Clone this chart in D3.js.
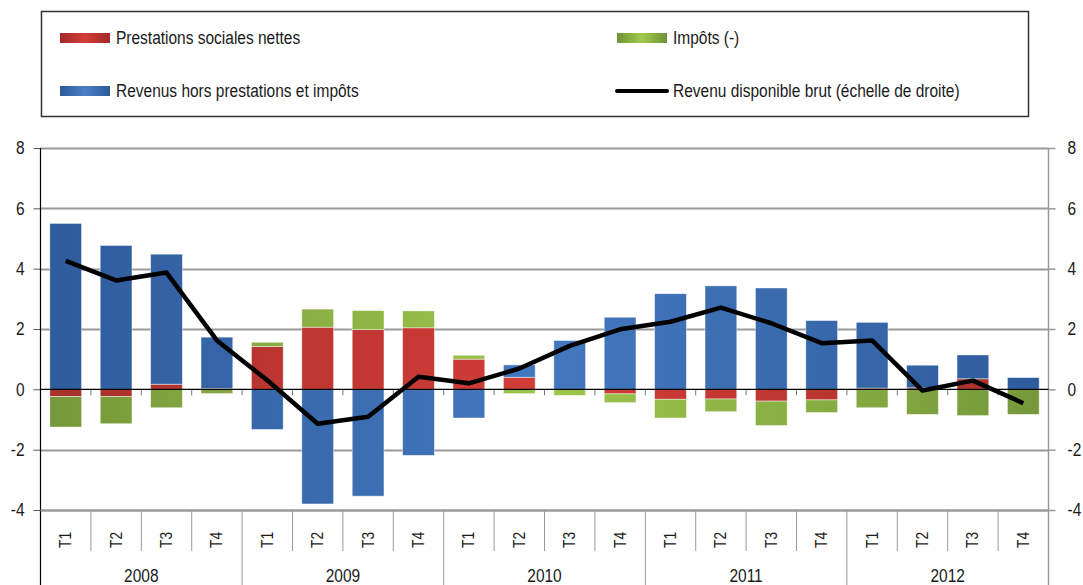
<!DOCTYPE html>
<html>
<head>
<meta charset="utf-8">
<script src="https://cdn.jsdelivr.net/npm/d3@7"></script>
<style>
  html, body { margin: 0; padding: 0; background: #fff; }
  svg { display: block; }
  text { font-family: "Liberation Sans Narrow", "Arial Narrow", "Liberation Sans", Arial, sans-serif; fill: #1a1a1a; }
</style>
</head>
<body>
<svg id="chart" width="1083" height="585"></svg>
<script>
const quarters = ["T1","T2","T3","T4","T1","T2","T3","T4","T1","T2","T3","T4","T1","T2","T3","T4","T1","T2","T3","T4"];
const years = ["2008","2009","2010","2011","2012"];
const prestations = [-0.24,-0.24,0.17,0.03,1.42,2.06,1.98,2.04,1.00,0.40,0.00,-0.15,-0.33,-0.32,-0.39,-0.35,0.04,0.05,0.35,0.00];
const impots      = [-1.01,-0.90,-0.61,-0.14,0.14,0.60,0.63,0.56,0.13,-0.14,-0.20,-0.29,-0.62,-0.42,-0.81,-0.42,-0.61,-0.83,-0.87,-0.83];
const revenus     = [5.50,4.77,4.31,1.70,-1.33,-3.80,-3.54,-2.19,-0.95,0.41,1.62,2.39,3.17,3.43,3.36,2.28,2.18,0.75,0.79,0.39];
const rdb         = [4.26,3.61,3.87,1.62,0.30,-1.14,-0.91,0.42,0.20,0.69,1.44,1.99,2.24,2.71,2.19,1.53,1.62,-0.04,0.29,-0.46];
const yTicks = [-4,-2,0,2,4,6,8];
const seriesNames = ["Prestations sociales nettes","Impôts (-)","Revenus hors prestations et impôts","Revenu disponible brut (échelle de droite)"];

const svg = d3.select("#chart");
const L = 40.5, R = 1048.5, T = 148, B = 510;
const SQ = 0.86; // horizontal condensing of text

const idx = d3.range(quarters.length);
const x = d3.scaleBand().domain(idx).range([L, R]).padding(0);
const y = d3.scaleLinear().domain([-4, 8]).range([B, T]);
const y2 = d3.scaleLinear().domain([-4, 8]).range([B, T]);
const fmt = d => String(d);

const defs = svg.append("defs");
function plotGrad(id, edge, mid) {
  const g = defs.append("linearGradient").attr("id", id)
    .attr("gradientUnits", "userSpaceOnUse").attr("x1", L).attr("x2", R).attr("y1", 0).attr("y2", 0);
  g.append("stop").attr("offset", "0").attr("stop-color", edge);
  g.append("stop").attr("offset", "0.5").attr("stop-color", mid);
  g.append("stop").attr("offset", "1").attr("stop-color", edge);
}
function swGrad(id, edge, mid) {
  const g = defs.append("linearGradient").attr("id", id).attr("x1", "0").attr("x2", "1");
  g.append("stop").attr("offset", "0").attr("stop-color", edge);
  g.append("stop").attr("offset", "0.5").attr("stop-color", mid);
  g.append("stop").attr("offset", "1").attr("stop-color", edge);
}
plotGrad("gRed", "#a8302b", "#d23c38");
plotGrad("gGreen", "#75973a", "#9dc64c");
plotGrad("gBlue", "#2e5b9c", "#4478be");
swGrad("sRed", "#a02a28", "#d43d39");
swGrad("sGreen", "#6f9236", "#a2c94e");
swGrad("sBlue", "#2d5a9b", "#4a7fc4");

function condense(sel) {
  sel.each(function () {
    const len = this.getComputedTextLength();
    if (len > 0) {
      d3.select(this).attr("textLength", (len * SQ).toFixed(2)).attr("lengthAdjust", "spacingAndGlyphs");
    }
  });
}

// gridlines
svg.append("g").selectAll("line").data(yTicks.filter(d => d !== 0)).join("line")
  .attr("x1", L).attr("x2", R).attr("y1", d => Math.round(y(d)) + 0.5).attr("y2", d => Math.round(y(d)) + 0.5)
  .attr("stroke", "#9a9a9a").attr("stroke-width", 2);

// left axis
const leftAxis = d3.axisLeft(y).tickValues(yTicks).tickSize(7).tickPadding(9).tickFormat(fmt);
const gl = svg.append("g").attr("transform", `translate(${L},0)`).call(leftAxis);
gl.select(".domain").remove();
gl.selectAll(".tick line").attr("stroke", "#555").attr("stroke-width", 1);
gl.selectAll(".tick text").style("font-size", "18px").attr("fill", "#1a1a1a")
  .style("font-family", '"Liberation Sans", Arial, sans-serif').call(condense);
svg.append("line").attr("x1", L).attr("x2", L).attr("y1", T).attr("y2", 585).attr("stroke", "#000").attr("stroke-width", 1.2);

// right axis
const rightAxis = d3.axisRight(y2).tickValues(yTicks).tickSize(7).tickPadding(12).tickFormat(fmt);
const gr = svg.append("g").attr("transform", `translate(${R},0)`).call(rightAxis);
gr.select(".domain").remove();
gr.selectAll(".tick line").attr("stroke", "#9a9a9a").attr("stroke-width", 1.5);
gr.selectAll(".tick text").style("font-size", "18px").attr("fill", "#1a1a1a")
  .style("font-family", '"Liberation Sans", Arial, sans-serif').call(condense);
svg.append("line").attr("x1", R).attr("x2", R).attr("y1", T).attr("y2", 585).attr("stroke", "#9a9a9a").attr("stroke-width", 1.5);

// bottom category axis
svg.append("line").attr("x1", L).attr("x2", R).attr("y1", B + 0.5).attr("y2", B + 0.5).attr("stroke", "#9a9a9a").attr("stroke-width", 2);
const bounds = d3.range(1, quarters.length);
svg.append("g").selectAll("line").data(bounds).join("line")
  .attr("x1", d => x(d)).attr("x2", d => x(d))
  .attr("y1", B).attr("y2", d => d % 4 === 0 ? 585 : 551)
  .attr("stroke", "#9a9a9a").attr("stroke-width", 1);
svg.append("g").selectAll("text").data(idx).join("text")
  .attr("transform", d => `translate(${x(d) + x.bandwidth() / 2 + 5.5},540) rotate(-90)`)
  .attr("text-anchor", "middle").style("font-size", "16px").text(d => quarters[d]).call(condense);
svg.append("g").selectAll("text").data(years).join("text")
  .attr("x", (d, i) => (x(i * 4) + x(i * 4 + 3) + x.bandwidth()) / 2)
  .attr("y", 582).attr("text-anchor", "middle").style("font-size", "18px").text(d => d).call(condense);

// zero-line small ticks
svg.append("g").selectAll("line").data(bounds).join("line")
  .attr("x1", d => x(d)).attr("x2", d => x(d)).attr("y1", y(0)).attr("y2", y(0) + 6)
  .attr("stroke", "#777").attr("stroke-width", 1);

// stacked bars
const rows = idx.map(i => ({ i, prestations: prestations[i], impots: impots[i], revenus: revenus[i] }));
const keys = ["prestations", "impots", "revenus"];
const fills = { prestations: "url(#gRed)", impots: "url(#gGreen)", revenus: "url(#gBlue)" };
const stack = d3.stack().keys(keys).offset(d3.stackOffsetDiverging)(rows);
const bw = x.bandwidth() * 0.63;
svg.append("g").selectAll("g").data(stack).join("g")
  .attr("fill", s => fills[s.key])
  .selectAll("rect").data(s => s).join("rect")
  .attr("x", d => x(d.data.i) + (x.bandwidth() - bw) / 2)
  .attr("width", bw)
  .attr("y", d => y(Math.max(d[0], d[1])))
  .attr("height", d => Math.abs(y(d[0]) - y(d[1])))
  .attr("stroke", "rgba(255,255,255,0.55)").attr("stroke-width", 0.8);

// zero line
svg.append("line").attr("x1", L).attr("x2", R).attr("y1", y(0)).attr("y2", y(0)).attr("stroke", "#000").attr("stroke-width", 1.3);

// line
const line = d3.line().x(i => x(i) + x.bandwidth() / 2).y(i => y2(rdb[i]));
svg.append("path").datum(idx).attr("d", line).attr("fill", "none")
  .attr("stroke", "#000").attr("stroke-width", 4.5).attr("stroke-linejoin", "round").attr("stroke-linecap", "butt");

// legend
svg.append("rect").attr("x", 41.5).attr("y", 11.5).attr("width", 987).attr("height", 105)
  .attr("fill", "none").attr("stroke", "#333").attr("stroke-width", 1.5);
const leg = [
  { name: seriesNames[0], sw: "url(#sRed)", x: 60, y: 38, type: "rect" },
  { name: seriesNames[1], sw: "url(#sGreen)", x: 617, y: 38, type: "rect" },
  { name: seriesNames[2], sw: "url(#sBlue)", x: 60, y: 91, type: "rect" },
  { name: seriesNames[3], sw: "#000", x: 617, y: 91, type: "line" }
];
const lg = svg.append("g").selectAll("g").data(leg).join("g");
lg.filter(d => d.type === "rect").append("rect")
  .attr("x", d => d.x).attr("y", d => d.y - 5).attr("width", 50).attr("height", 10).attr("fill", d => d.sw);
lg.filter(d => d.type === "line").append("line")
  .attr("x1", d => d.x).attr("x2", d => d.x + 50).attr("y1", d => d.y).attr("y2", d => d.y)
  .attr("stroke", "#000").attr("stroke-width", 4).attr("stroke-linecap", "round");
lg.append("text").attr("x", d => d.x + 56).attr("y", d => d.y).attr("dy", "0.35em")
  .style("font-size", "18px").text(d => d.name).call(condense);
</script>
</body>
</html>
